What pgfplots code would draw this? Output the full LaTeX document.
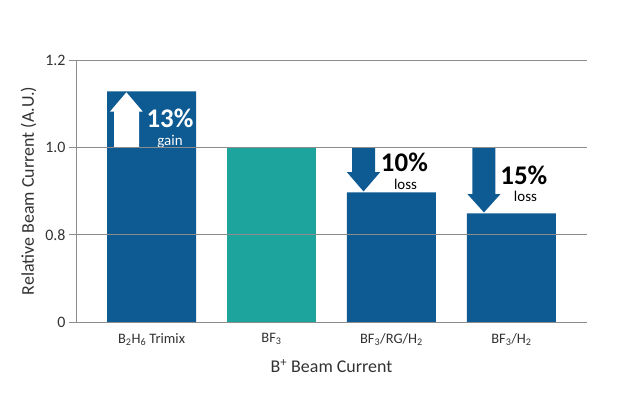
\documentclass[border=0pt]{standalone}
\usepackage{fontspec}
\setmainfont{Carlito}
\usepackage{pgfplots}
\pgfplotsset{compat=1.18}
\definecolor{barblue}{RGB}{14,90,146}
\definecolor{barteal}{RGB}{29,165,157}
\definecolor{gridgray}{RGB}{140,140,140}
\definecolor{txtgray}{RGB}{50,50,50}
\begin{document}
\begin{tikzpicture}
\path[use as bounding box] (-76bp,-75bp) rectangle (548bp,322bp);
\begin{axis}[
  at={(0,0)}, anchor=south west,
  scale only axis, width=511bp, height=262bp,
  xmin=-0.63, xmax=3.63, ymin=0.6, ymax=1.2,
  ytick={0.6,0.8,1.0,1.2}, yticklabels={0,0.8,1.0,1.2},
  xtick={0,1,2,3},
  xticklabels={B\textsubscript{2}H\textsubscript{6} Trimix, BF\textsubscript{3}, BF\textsubscript{3}/RG/H\textsubscript{2}, BF\textsubscript{3}/H\textsubscript{2}},
  axis lines*=left,
  axis line style={gridgray, line width=0.8bp},
  x axis line style={-},
  y axis line style={-},
  ymajorgrids, grid style={gridgray, line width=0.8bp},
  xtick style={draw=none},
  ytick style={gridgray, line width=0.8bp},
  tick align=outside, major tick length=7bp,
  ytick pos=left, xtick pos=bottom,
  /pgf/number format/assume math mode=true,
  tick label style={font=\fontsize{16}{16}\selectfont, text=txtgray},
  x tick label style={font=\fontsize{14.5}{14.5}\selectfont, yshift=-1bp},
  ylabel={Relative Beam Current (A.U.)},
  xlabel={B\textsuperscript{+} Beam Current},
  label style={font=\fontsize{18}{18}\selectfont, text=txtgray},
  ylabel style={yshift=2bp},
  xlabel style={yshift=-7bp},
  axis on top,
  clip=true,
]
\addplot[ybar, bar width=89bp, bar shift=0pt, fill=barblue, draw=none]
  coordinates {(0,1.128) (2,0.897) (3,0.849)};
\addplot[ybar, bar width=89bp, bar shift=0pt, fill=barteal, draw=none]
  coordinates {(1,1.0)};
% up arrow (white) in first bar
\fill[white] (axis cs:-0.313,1.0) -- (axis cs:-0.313,1.082) -- (axis cs:-0.346,1.082)
  -- (axis cs:-0.21,1.126) -- (axis cs:-0.074,1.082) -- (axis cs:-0.104,1.082)
  -- (axis cs:-0.104,1.0) -- cycle;
% down arrows
\fill[barblue] (axis cs:1.671,1.0) -- (axis cs:1.671,0.943) -- (axis cs:1.629,0.943)
  -- (axis cs:1.767,0.899) -- (axis cs:1.905,0.943) -- (axis cs:1.863,0.943)
  -- (axis cs:1.863,1.0) -- cycle;
\fill[barblue] (axis cs:2.675,1.0) -- (axis cs:2.675,0.893) -- (axis cs:2.633,0.893)
  -- (axis cs:2.771,0.851) -- (axis cs:2.909,0.893) -- (axis cs:2.867,0.893)
  -- (axis cs:2.867,1.0) -- cycle;
\node[inner sep=0pt, text=white, font=\fontsize{27}{27}\selectfont\bfseries] at (axis cs:0.154,1.066) {13\%};
\node[inner sep=0pt, text=white, font=\fontsize{15}{15}\selectfont] at (axis cs:0.154,1.012) {gain};
\node[inner sep=0pt, text=black, font=\fontsize{27}{27}\selectfont\bfseries] at (axis cs:2.108,0.966) {10\%};
\node[inner sep=0pt, text=black, font=\fontsize{15}{15}\selectfont] at (axis cs:2.117,0.916) {loss};
\node[inner sep=0pt, text=black, font=\fontsize{27}{27}\selectfont\bfseries] at (axis cs:3.104,0.937) {15\%};
\node[inner sep=0pt, text=black, font=\fontsize{15}{15}\selectfont] at (axis cs:3.117,0.887) {loss};
\end{axis}
\end{tikzpicture}
\end{document}
